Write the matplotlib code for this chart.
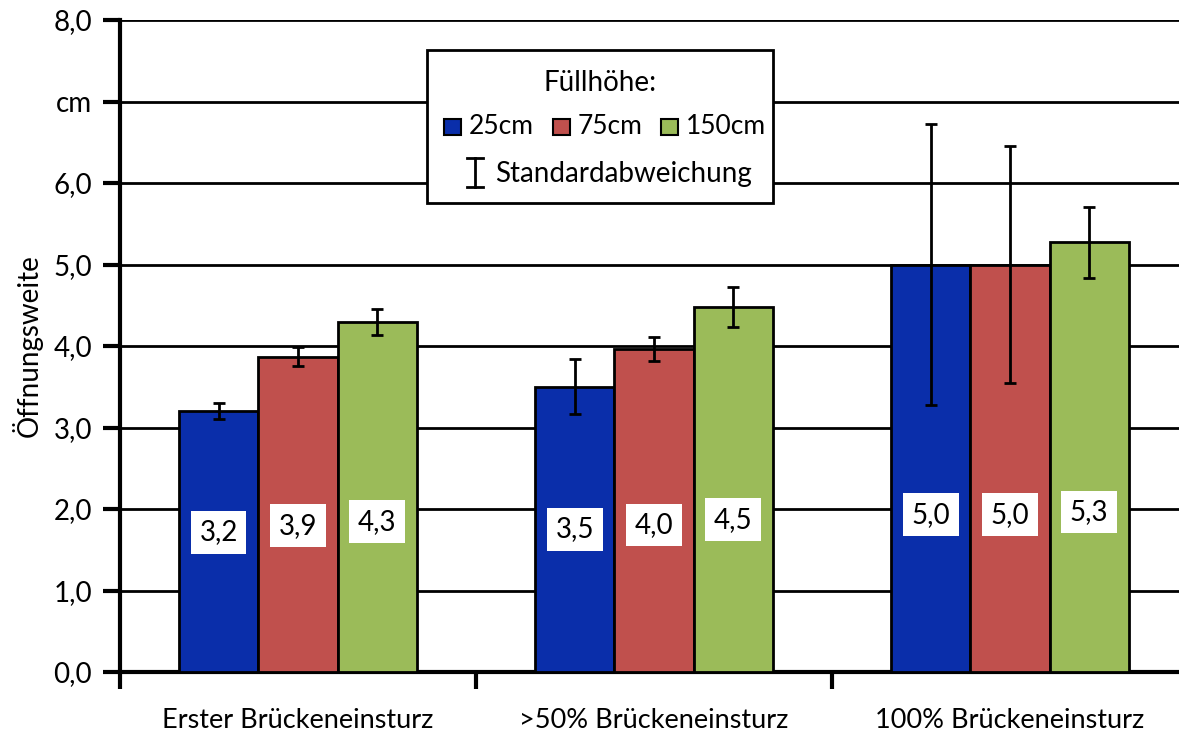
import numpy as np
import matplotlib
matplotlib.use("Agg")
import matplotlib.pyplot as plt
from matplotlib.patches import Rectangle
from matplotlib.lines import Line2D

# --- data -------------------------------------------------------------
categories = ["Erster Brückeneinsturz", ">50% Brückeneinsturz", "100% Brückeneinsturz"]
series_names = ["25cm", "75cm", "150cm"]
values_25 = [3.20, 3.50, 5.00]
values_75 = [3.87, 3.96, 5.00]
values_150 = [4.30, 4.48, 5.27]
std_25 = [0.10, 0.34, 1.72]
std_75 = [0.12, 0.15, 1.45]
std_150 = [0.16, 0.25, 0.44]
y_ticks = [0, 1, 2, 3, 4, 5, 6, 7, 8]
y_tick_labels = ["0,0", "1,0", "2,0", "3,0", "4,0", "5,0", "6,0", "cm", "8,0"]

colors = ["#0A2EAA", "#C0504D", "#9BBB59"]
FONT = ["Lato", "DejaVu Sans"]
NARROW = ["Liberation Sans Narrow", "Lato", "DejaVu Sans"]
plt.rcParams["font.family"] = FONT
FS = 20

W, H = 1179, 733
fig = plt.figure(figsize=(W / 100, H / 100), dpi=100)
ax = fig.add_axes([120 / W, (H - 672) / H, (1188 - 120) / W, (672 - 20) / H])

series = [values_25, values_75, values_150]
errors = [std_25, std_75, std_150]
centers = np.arange(len(categories)) + 0.5
width = 0.222

for i, (vals, errs, col) in enumerate(zip(series, errors, colors)):
    x = centers + (i - 1) * width
    ax.bar(x, vals, width=width, color=col, edgecolor="black", linewidth=2, zorder=3)
    ax.errorbar(x, vals, yerr=errs, fmt="none", ecolor="black", elinewidth=2,
                capsize=4, capthick=2, zorder=4)
    for xi, v in zip(x, vals):
        ax.text(xi, 1.33 + 0.12 * v, f"{v:.1f}".replace(".", ","), ha="center", va="center",
                fontsize=FS, zorder=5,
                bbox=dict(boxstyle="square,pad=0.3", facecolor="white", edgecolor="none"))

ax.set_xlim(0, 3)
ax.set_ylim(0, 8)
ax.set_yticks(y_ticks)
ax.set_yticklabels(y_tick_labels, fontsize=FS)
ax.yaxis.grid(True, color="black", linewidth=2, zorder=1)
ax.set_axisbelow(True)

ax.set_xticks([0, 1, 2, 3])
ax.set_xticklabels([])
ax.set_xticks(centers, minor=True)
ax.set_xticklabels(categories, minor=True, fontsize=19.5, family=NARROW)
ax.tick_params(axis="x", which="major", direction="out", length=12, width=3)
ax.tick_params(axis="x", which="minor", length=0, pad=26)
ax.tick_params(axis="y", direction="out", length=12, width=3, pad=8)

for s in ["top", "right"]:
    ax.spines[s].set_visible(False)
ax.spines["left"].set_linewidth(3)
ax.spines["bottom"].set_linewidth(3)

ax.set_ylabel("Öffnungsweite", fontsize=FS, family=NARROW, labelpad=8)

# --- legend box, drawn in figure pixels ---------------------------------
def fx(x):
    return x / W

def fy(y):
    return 1 - y / H

fig.patches.append(Rectangle((fx(427), fy(203)), fx(773) - fx(427), fy(50) - fy(203),
                             transform=fig.transFigure, facecolor="white",
                             edgecolor="black", linewidth=2, zorder=10))
fig.text(fx(600), fy(83), "Füllhöhe:", ha="center", va="center", fontsize=FS, zorder=11)
for x0, name, col in zip([444, 553, 661], series_names, colors):
    fig.patches.append(Rectangle((fx(x0), fy(135)), fx(17), 16 / H,
                                 transform=fig.transFigure, facecolor=col,
                                 edgecolor="black", linewidth=1.5, zorder=11))
    fig.text(fx(x0 + 25), fy(127), name, ha="left", va="center", fontsize=19, zorder=11)
ex = 475
for (xa, ya, xb, yb) in [(ex, 158, ex, 187), (ex - 8, 158, ex + 8, 158), (ex - 8, 187, ex + 8, 187)]:
    fig.lines.append(Line2D([fx(xa), fx(xb)], [fy(ya), fy(yb)], transform=fig.transFigure,
                            color="black", linewidth=2, zorder=11))
fig.text(fx(495), fy(174), "Standardabweichung", ha="left", va="center", fontsize=FS, zorder=11)

fig.savefig("out.png", dpi=100)
